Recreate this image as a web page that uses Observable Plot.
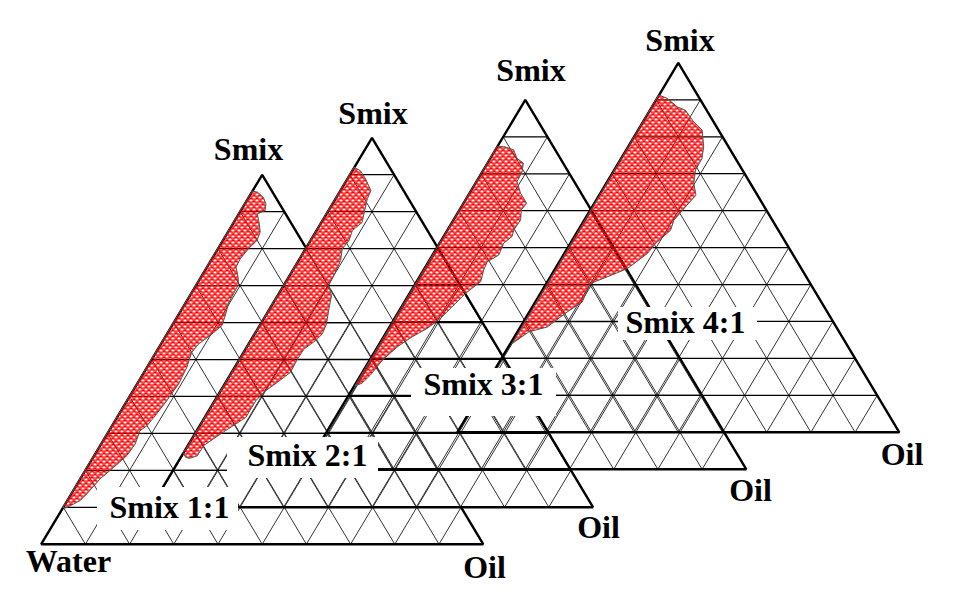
<!DOCTYPE html>
<html><head><meta charset="utf-8">
<style>html,body{margin:0;padding:0;background:#fff}svg{display:block}</style>
<script src="https://cdn.jsdelivr.net/npm/d3@7"></script>
<script src="https://cdn.jsdelivr.net/npm/@observablehq/plot@0.6"></script>
</head><body><div id="chart"></div>
<script>
// Region boundaries: Smix % and distance (in % oil) from the Water–Smix edge.
const smix11 = [95.6,95.3,93.9,92.1,90.3,89.4,86.7,84.5,82.2,80,77.2,75,72.3,70.3,67.8,65.1,61.9,59.2,56.5,54.2,51.9,47.9,43.4,40.2,38.9,34.8,32.1,30.7,27.1,24,20.8,17.7,13.6,11.8,9.8,9.9];
const oil11  = [0,1.3,3.3,4.8,5.5,4.2,6,7.3,7.7,6.9,6.4,6.6,8.4,9.5,9.6,9.8,10.7,11.3,10,8.5,8.1,9,9.4,9.1,9,8.4,7.9,7,7.7,7.4,6,4.5,3.5,2.9,0.7,0];
const smix21 = [92,91.1,88.9,85.7,83.5,80.3,77.1,74.9,72.2,69.9,66.8,62.7,60,57.3,53.7,49.6,46.9,45.1,42.8,40.1,36.5,33.8,31.6,28.8,24.3,22.5,19.8,16.7,13.9,13.2,13.5,14.8,15.8];
const oil21  = [0,1.8,4.1,6.9,7.2,8.2,9.2,8.1,8.7,8.3,9.5,10,10.2,12.2,13.4,14.9,15.3,14.7,13.2,13.1,13.3,11.7,10.2,9.3,9.3,7.9,5.8,3.6,3.5,2.1,1.1,-0.2,0];
const smix31 = [87.4,87.4,86.5,84.2,82.9,80.6,77.9,74.8,72,70.2,67.5,64.8,63,61.2,58,56.2,54,50.8,47.7,45,40.9,38.2,35.9,33.2,29.6,25.5,23.3,22.6];
const oil31  = [0,1.4,4.1,6,8.1,9,9.2,11.5,14.3,14,15.2,15,15.5,14.5,15,13.3,13.6,14.5,12.7,11.8,10.4,8.8,6.5,4.5,2.9,2.2,1.4,0.2];
const smix41 = [91.3,90.4,88.1,87.2,84,81.8,77.3,74.1,71,67.4,64.2,61,57.4,54.7,51.1,48.4,44.3,42.1,40.3,35.3,32.6,28.5,27.2,24];
const oil41  = [0,2.3,5.7,8,11.5,14.5,17.1,18.3,18.4,19.8,21.9,21.1,20.3,20.9,19.3,18.8,16.3,12.9,10,10.6,8.6,6.1,2.6,0.4];

const ratios = ["Smix 1:1","Smix 2:1","Smix 3:1","Smix 4:1"];
const apexName = "Smix", rightName = "Oil", leftName = "Water";
const gridLevels = [10,20,30,40,50,60,70,80,90];
// Stretch of the first triangle's Smix–Oil edge that is drawn thin (Smix %)
const thinEdge = [10,80.6];

// Layout (page units of the position scales)
const W = 442, H = 369.4;
const frames = [
  {left:40.7,  base:543.7, smix:smix11, oil:oil11, apexLabel:[248,159.5], oilLabel:[484,577], box:[97,487,238,530],  ratio:[169,517]},
  {left:150.5, base:506.7, smix:smix21, oil:oil21, apexLabel:[372.5,123], oilLabel:[598,537], box:[227,437,378,478], ratio:[307,465]},
  {left:303.8, base:468.8, smix:smix31, oil:oil31, apexLabel:[530.5,80.5],  oilLabel:[750,500], box:[411,368,556,416], ratio:[483,394]},
  {left:456.8, base:431.8, smix:smix41, oil:oil41, apexLabel:[679.5,50.5],  oilLabel:[901.5,464], box:[618,307,757,340], ratio:[685,332]}
];

// Ternary position: s = Smix %, o = oil % measured from the left edge
const px = (f,s,o) => f.left + (o + s/2)*W/100;
const py = (f,s) => f.base - s*H/100;

const horiz=[], diag=[], outlines=[], regions=[];
frames.forEach((f,k)=>{
  for (const g of gridLevels) {
    horiz.push({x1:px(f,g,0),y1:py(f,g),x2:px(f,g,100-g),y2:py(f,g)});
    diag.push({x1:px(f,0,g),y1:py(f,0),x2:px(f,100-g,g),y2:py(f,100-g)});
    diag.push({x1:px(f,0,g),y1:py(f,0),x2:px(f,g,0),y2:py(f,g)});
  }
  if (k>0) [[0,0],[0,100],[100,0]].forEach(([s,o])=>outlines.push({k,x:px(f,s,o),y:py(f,s)}));
  f.smix.forEach((s,i)=>regions.push({k,x:px(f,s,f.oil[i]),y:py(f,s)}));
});
const f0 = frames[0];
const firstOutline = [[thinEdge[1],100-thinEdge[1]],[100,0],[0,0],[0,100],[thinEdge[0],100-thinEdge[0]]]
  .map(([s,o])=>({x:px(f0,s,o),y:py(f0,s)}));
diag.push({x1:px(f0,thinEdge[0],100-thinEdge[0]),y1:py(f0,thinEdge[0]),x2:px(f0,thinEdge[1],100-thinEdge[1]),y2:py(f0,thinEdge[1])});

const boxes = frames.map(f=>({x1:f.box[0],y1:f.box[1],x2:f.box[2],y2:f.box[3]}));
const labels = [
  ...frames.map(f=>({t:apexName,x:f.apexLabel[0],y:f.apexLabel[1]})),
  ...frames.map(f=>({t:rightName,x:f.oilLabel[0],y:f.oilLabel[1]})),
  ...frames.map((f,i)=>({t:ratios[i],x:f.ratio[0],y:f.ratio[1]})),
  {t:leftName,x:68,y:571.5}
];

const plot = Plot.plot({
  width:980,height:606,margin:0,
  style:{background:"#fff"},
  x:{domain:[0,980],range:[0,980],axis:null},
  y:{domain:[0,606],range:[0,606],axis:null},
  marks:[
    Plot.link(diag,{x1:"x1",y1:"y1",x2:"x2",y2:"y2",stroke:"#333",strokeWidth:1}),
    Plot.link(horiz,{x1:"x1",y1:"y1",x2:"x2",y2:"y2",stroke:"#000",strokeWidth:1.25}),
    Plot.line(outlines,{x:"x",y:"y",z:"k",stroke:"#000",strokeWidth:2.4,strokeLinejoin:"miter",curve:"linear-closed"}),
    Plot.line(firstOutline,{x:"x",y:"y",stroke:"#000",strokeWidth:2.4,strokeLinejoin:"miter"}),
    Plot.line(regions,{x:"x",y:"y",z:"k",fill:"url(#dots)",stroke:"#555",strokeWidth:1,curve:"linear-closed"}),
    Plot.rect(boxes,{x1:"x1",y1:"y1",x2:"x2",y2:"y2",fill:"#fff"}),
    Plot.text(labels,{x:"x",y:"y",text:"t",textAnchor:"middle",lineAnchor:"bottom",fontFamily:"Liberation Serif",fontWeight:"bold",fontSize:32,fill:"#000"})
  ]
});
const NS="http://www.w3.org/2000/svg";
const defs=document.createElementNS(NS,"defs");
const pat=document.createElementNS(NS,"pattern");
pat.setAttribute("id","dots");pat.setAttribute("patternUnits","userSpaceOnUse");
pat.setAttribute("width","6");pat.setAttribute("height","6");
// 6×6 pixel tile: staggered red blocks, white gaps between them and a white pixel in each
const path=document.createElementNS(NS,"path");
path.setAttribute("d","M0,0H6V6H0ZM3,1V3H6V1ZM0,4V6H3V4ZM1,1V2H2V1ZM4,4V5H5V4Z");
path.setAttribute("fill","#f00");path.setAttribute("fill-rule","evenodd");
path.setAttribute("shape-rendering","crispEdges");
pat.appendChild(path);defs.appendChild(pat);plot.insertBefore(defs,plot.firstChild);
document.getElementById("chart").appendChild(plot);
</script></body></html>
